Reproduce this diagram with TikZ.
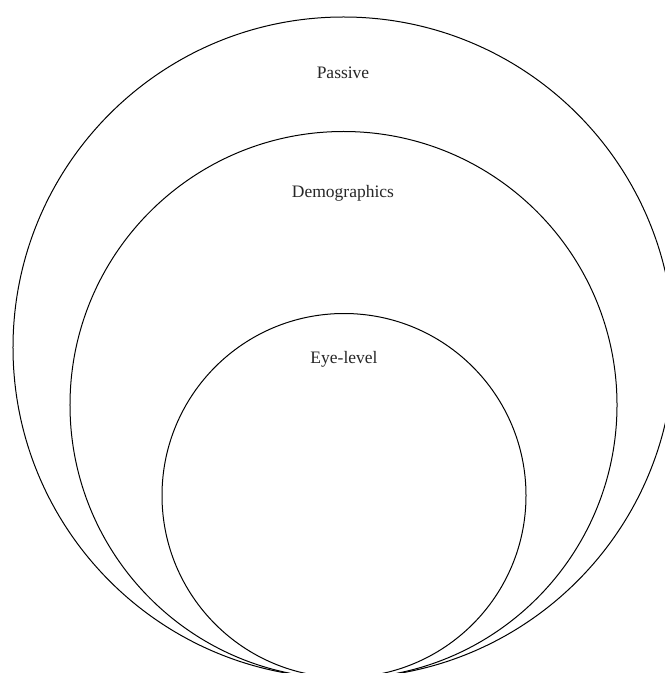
\documentclass[tikz,border=0pt]{standalone}
\usepackage{fontspec}
\setmainfont{Liberation Serif}
\begin{document}
\begin{tikzpicture}[x=1bp,y=-1bp,
  ring/.style={circle,draw=black,line width=1bp,inner sep=0pt,fill=none},
  lbl/.style={font=\fontsize{17.5bp}{20bp}\selectfont,text=black!85}]
\useasboundingbox (0,0) rectangle (665,673);
\begin{scope}
\clip (0,0) rectangle (665,673);
\node[ring,minimum size=661bp] (outer) at (343.5,347.5) {};
\node[ring,minimum size=547bp] (middle) at (343.5,405) {};
\node[ring,minimum size=364bp] (inner) at (344,495.5) {};
\end{scope}
\node[lbl] (passive) at (343,73) {Passive};
\node[lbl] (demo) at (343,193) {Demographics};
\node[lbl] (eye) at (344,359) {Eye-level};
\end{tikzpicture}
\end{document}
